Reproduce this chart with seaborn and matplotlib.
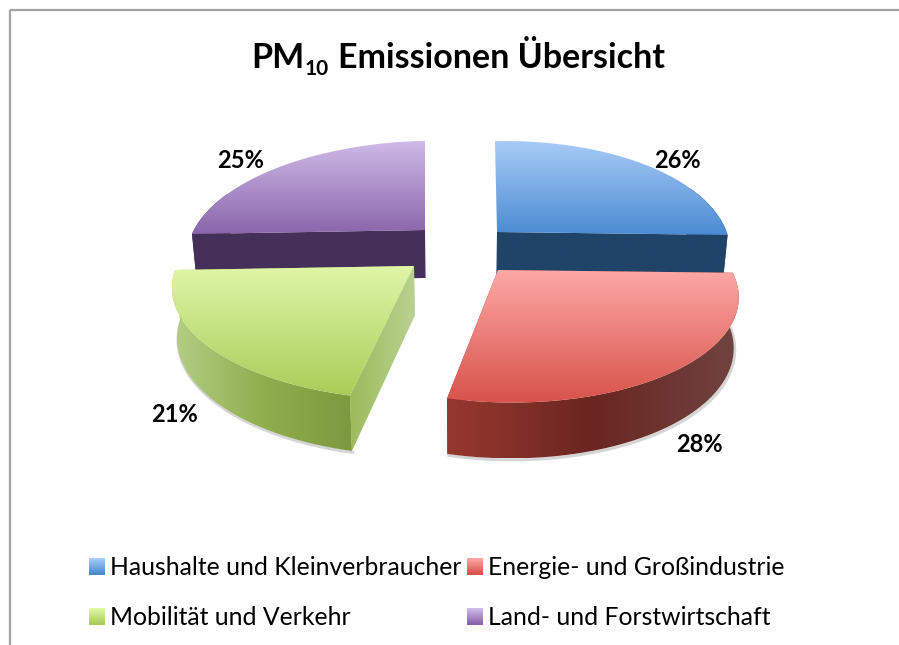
import numpy as np
import matplotlib
matplotlib.use("Agg")
import matplotlib.pyplot as plt
import seaborn as sns
from matplotlib.legend_handler import HandlerBase
from matplotlib.patches import PathPatch, Patch, Rectangle
from matplotlib.path import Path

# data
categories = ["Haushalte und Kleinverbraucher", "Energie- und Großindustrie",
              "Mobilität und Verkehr", "Land- und Forstwirtschaft"]
shares = [26, 28, 21, 25]

# look of each slice, same order as categories
top_colors = [["#a8cbf7", "#4a8bd2"], ["#fda8a6", "#d8524a"],
              ["#e0f6a8", "#a9cd58"], ["#cfbbe8", "#8a65ab"]]
rim_colors = [["#1f4468", "#1f4468"], ["#96382f", "#6a2620", "#704441"],
              ["#b4cf86", "#90ae4e", "#7c993e"], ["#45305a", "#45305a"]]
cut_colors = [["#1f4468", "#1f4468"], ["#96382f", "#96382f"],
              ["#9dbb5b", "#b9d190"], ["#45305a", "#45305a"]]
# apex x, apex y, x radius, y radius, lean
slice_geom = [(497, 232, 228, 109, -2), (498, 270, 231, 106, -21),
              (414, 266, 239, 107, -10), (425, 230, 233, 107, 0)]
label_pos = [(677, 160), (699, 444), (174, 414), (241, 160)]
persp = 0.2
tilt = -4
draw_order = [3, 0, 2, 1]

sns.set_theme(style="white")
plt.rcParams["font.family"] = ["Lato", "DejaVu Sans"]

fig = plt.figure(figsize=(8.99, 6.45), dpi=100)
ax = fig.add_axes([0, 0, 1, 1])

# pie gives the angles, the slices are then projected by hand
wedges, _ = ax.pie(shares, startangle=90, counterclock=False)
angles = [(w.theta1, w.theta2) for w in wedges]
for w in wedges:
    w.set_visible(False)


def project(theta, r, geom):
    x0, y0, rx, ry, lean = geom
    u = r * np.cos(np.radians(theta))
    v = r * np.sin(np.radians(theta))
    d = 1 + persp * v
    return x0 + rx * u / d + lean * v, y0 - ry * v / d + tilt * u


def drop(x, y):
    # extrude down, a bit deeper and narrower to the front
    return x + (457 - x) * 0.018, y + 48 + 0.045 * (y - 230)


def shade(xs, ys, colors, vertical=False, zorder=1):
    cmap = sns.blend_palette(colors, as_cmap=True)
    verts = np.column_stack([xs, ys])
    clip = PathPatch(Path(np.vstack([verts, verts[:1]])), transform=ax.transData)
    grad = np.linspace(0, 1, 256)
    grad = grad.reshape(-1, 1) if vertical else grad.reshape(1, -1)
    im = ax.imshow(grad, cmap=cmap, aspect="auto", origin="upper", zorder=zorder,
                   extent=(min(xs), max(xs), max(ys), min(ys)))
    im.set_clip_path(clip)


def wall(x1, y1, colors, zorder):
    x2, y2 = drop(x1, y1)
    xs = np.concatenate([x1, x2[::-1]])
    ys = np.concatenate([y1, y2[::-1]])
    shade(xs, ys, colors, zorder=zorder)
    return xs, ys


for n, i in enumerate(draw_order):
    geom = slice_geom[i]
    t1, t2 = angles[i]
    theta = np.linspace(t1, t2, 120)
    ax_x, ax_y = project(theta, 1.0, geom)
    base = 10 * n
    # only the part of the rim facing the viewer gets a wall
    front = np.sin(np.radians(theta)) < 0.4
    bx, by = drop(ax_x[front], ax_y[front])
    ax.plot(bx + 1, by + 1.5, color="#888888", lw=2.2, alpha=0.35, zorder=base, solid_capstyle="round")
    # cut faces, then rim, then the top
    for th in (t1, t2):
        # edges running to the back are not seen
        if np.sin(np.radians(th)) > 0.5:
            continue
        cx, cy = project(th, np.array([0.0, 1.0]), geom)
        wall(cx, cy, cut_colors[i], base + 1)
    wall(ax_x[front], ax_y[front], rim_colors[i], base + 2)
    tx = np.concatenate([[geom[0]], ax_x])
    ty = np.concatenate([[geom[1]], ax_y])
    shade(tx, ty, top_colors[i], vertical=True, zorder=base + 3)

for i, (lx, ly) in enumerate(label_pos):
    ax.text(lx, ly, f"{shares[i]}%", ha="center", va="center", fontsize=17,
            fontweight="bold", color="black", zorder=100)

# title in three pieces, mathtext would not give a bold subscript
t_style = dict(fontweight="bold", color="black", zorder=100, va="baseline")
t1 = ax.text(251.5, 67.5, "PM", fontsize=24.5, **t_style)
t2 = ax.annotate("10", xy=(1, 75), xycoords=(t1, "data"), xytext=(0, 0), textcoords="offset points",
                 fontsize=15, **t_style)
ax.annotate("Emissionen Übersicht", xy=(1, 67.5), xycoords=(t2, "data"), xytext=(6.5, 0), textcoords="offset points",
            fontsize=24.5, **t_style)

ax.add_patch(Rectangle((9.5, 10), 1000, 1000, fill=False, edgecolor="#a3a3a3", lw=1.6, zorder=100))

ax.set_xlim(0, 899)
ax.set_ylim(645, 0)
ax.set_aspect("auto")
ax.axis("off")


class GradientBox(HandlerBase):
    def create_artists(self, legend, orig, xd, yd, w, h, fontsize, trans):
        pal = sns.blend_palette(orig.grad, 16)
        return [Rectangle((xd * -1, -yd + h * (15 - k) / 16), w, h / 16 + 0.3, color=pal[k], lw=0, transform=trans)
                for k in range(16)]


handles = []
for i in range(len(categories)):
    p = Patch(label=categories[i])
    p.grad = top_colors[i]
    handles.append(p)

# fill order is column by column
order = [0, 2, 1, 3]
fig.legend([handles[i] for i in order], [categories[i] for i in order], ncol=2,
           handler_map={Patch: GradientBox()}, frameon=False, fontsize=17.8,
           handlelength=0.65, handleheight=0.65, handletextpad=0.2, columnspacing=0.23,
           labelspacing=1.1, borderpad=0, borderaxespad=0,
           loc="upper left", bbox_to_anchor=(89 / 899, 1 - 556 / 645), labelcolor="black")

fig.savefig("out.png", dpi=100)
